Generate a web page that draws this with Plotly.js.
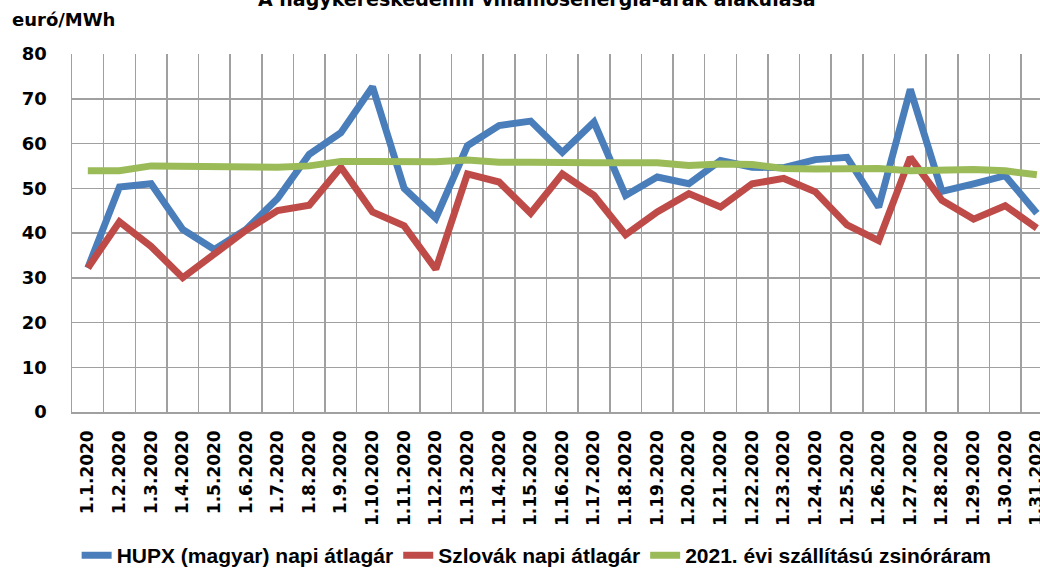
<!DOCTYPE html>
<html>
<head>
<meta charset="utf-8">
<script src="https://cdn.plot.ly/plotly-3.0.1.min.js"></script>
<style>html,body{margin:0;padding:0;background:#fff;}#chart{width:1040px;height:576px;}</style>
</head>
<body>
<div id="chart"></div>
<script>
const dates = ["1.1.2020","1.2.2020","1.3.2020","1.4.2020","1.5.2020","1.6.2020","1.7.2020","1.8.2020","1.9.2020","1.10.2020",
  "1.11.2020","1.12.2020","1.13.2020","1.14.2020","1.15.2020","1.16.2020","1.17.2020","1.18.2020","1.19.2020","1.20.2020",
  "1.21.2020","1.22.2020","1.23.2020","1.24.2020","1.25.2020","1.26.2020","1.27.2020","1.28.2020","1.29.2020","1.30.2020","1.31.2020"];
const hupx = [32.2,50.3,51.0,40.8,36.3,40.8,47.7,57.6,62.4,72.7,
  50.0,43.3,59.5,64.0,65.0,58.0,64.8,48.4,52.5,51.0,
  56.2,54.7,54.6,56.4,56.9,45.8,72.1,49.3,51.0,52.8,44.4];
const szlovak = [32.2,42.5,37.0,30.0,35.3,40.6,45.0,46.2,54.7,44.7,
  41.6,31.9,53.2,51.4,44.4,53.2,48.4,39.6,44.7,48.8,
  45.8,51.0,52.2,49.2,41.8,38.3,56.9,47.3,43.1,46.1,41.1];
const zsinor = [53.9,53.9,55.0,54.9,54.9,54.8,54.7,55.0,56.0,56.0,
  56.0,55.9,56.3,55.8,55.8,55.9,55.7,55.7,55.7,55.1,
  55.4,55.3,54.4,54.3,54.4,54.4,53.9,54.1,54.2,53.9,53.0];
const seriesNames = ["HUPX (magyar) napi átlagár","Szlovák napi átlagár","2021. évi szállítású zsinóráram"];
const titleText = "A nagykereskedelmi villamosenergia-árak alakulása";
const yUnit = "euró/MWh";

const tickFont = {family:"DejaVu Sans", size:18, color:"#000", weight:700};
const traces = [
  {x:dates, y:hupx, name:seriesNames[0], type:"scatter", mode:"lines", line:{color:"#4a7ebb", width:7}},
  {x:dates, y:szlovak, name:seriesNames[1], type:"scatter", mode:"lines", line:{color:"#be4b48", width:7}},
  {x:dates, y:zsinor, name:seriesNames[2], type:"scatter", mode:"lines", line:{color:"#9bbb59", width:7}}
];
const layout = {
  width:1040, height:576,
  margin:{l:72, r:0, t:54, b:159},
  paper_bgcolor:"#fff", plot_bgcolor:"#fff",
  showlegend:true,
  legend:{orientation:"h", x:0.48, xanchor:"center", y:-0.402, yanchor:"middle",
    font:{family:"Liberation Sans", size:21, color:"#000", weight:700}, itemwidth:30, tracegroupgap:0},
  xaxis:{type:"category", range:[-0.5,30.1], tickson:"boundaries", showgrid:true, gridcolor:"#a0a0a0", gridwidth:1.5,
    showline:true, linecolor:"#a0a0a0", linewidth:1.5, ticks:"", tickangle:-90, tickfont:{family:"DejaVu Sans", size:17, color:"#000", weight:700},
    ticklabelstandoff:10, zeroline:false, fixedrange:true},
  yaxis:{range:[0,80], dtick:10, tick0:0, showgrid:true, gridcolor:"#a0a0a0", gridwidth:1.5, showline:true, linecolor:"#a0a0a0", linewidth:1.5,
    ticks:"", tickfont:tickFont, ticklabelstandoff:20, zeroline:false, fixedrange:true},
  annotations:[
    {text:titleText, xref:"paper", yref:"paper", x:0.48, y:1.118, xanchor:"center", yanchor:"bottom", showarrow:false,
      font:{family:"DejaVu Sans", size:19, color:"#000", weight:700}},
    {text:yUnit, xref:"paper", yref:"paper", x:-0.064, y:1.096, xanchor:"left", yanchor:"middle", showarrow:false,
      font:{family:"DejaVu Sans", size:18, color:"#000", weight:700}}
  ]
};
Plotly.newPlot("chart", traces, layout, {displayModeBar:false, staticPlot:true});
</script>
</body>
</html>
